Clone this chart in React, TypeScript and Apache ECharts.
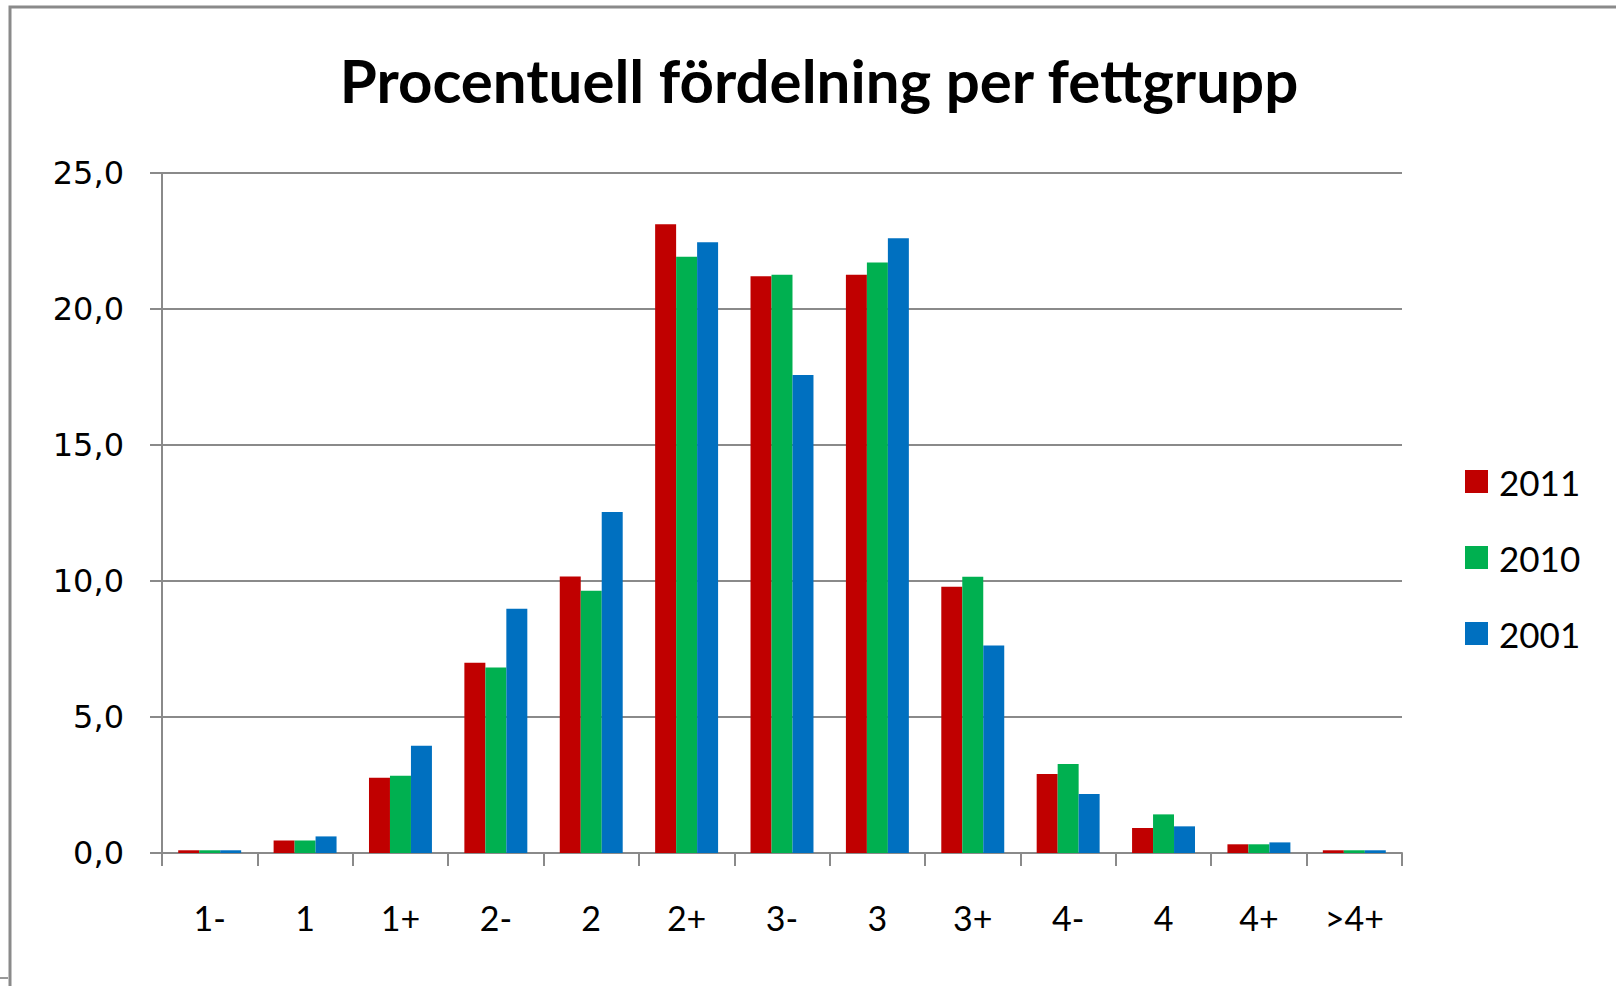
import React, { useEffect, useRef } from "react";
import * as echarts from "echarts";

const categories = ["1-", "1", "1+", "2-", "2", "2+", "3-", "3", "3+", "4-", "4", "4+", ">4+"];
const seriesNames = ["2011", "2010", "2001"];
const values2011 = [0.1, 0.46, 2.77, 6.99, 10.17, 23.12, 21.2, 21.26, 9.79, 2.9, 0.92, 0.32, 0.1];
const values2010 = [0.1, 0.46, 2.84, 6.82, 9.64, 21.92, 21.26, 21.71, 10.16, 3.27, 1.42, 0.32, 0.1];
const values2001 = [0.1, 0.61, 3.94, 8.98, 12.54, 22.45, 17.57, 22.6, 7.63, 2.17, 0.98, 0.39, 0.1];
const colors = ["#C00000", "#00B050", "#0070C0"];
const titleText = "Procentuell fördelning per fettgrupp";

export default function App() {
  const ref = useRef<HTMLDivElement>(null);
  useEffect(() => {
    if (!ref.current) return;
    const chart = echarts.init(ref.current, null, { renderer: "svg" });
    const gray = "#8a8a8a";
    const data = [values2011, values2010, values2001];
    chart.setOption({
      animation: false,
      backgroundColor: "#ffffff",
      title: {
        text: titleText,
        left: 814,
        top: 45,
        textAlign: "center",
        textStyle: {
          fontFamily: "Lato",
          fontWeight: "bold",
          fontSize: 60,
          lineHeight: 60,
          color: "#000000",
        },
      },
      legend: {
        orient: "vertical",
        left: 1460,
        top: 459,
        itemWidth: 23,
        itemHeight: 23,
        itemGap: 41,
        icon: "rect",
        data: seriesNames,
        textStyle: {
          fontFamily: "Lato",
          fontSize: 35,
          lineHeight: 35,
          color: "#000000",
          padding: [0, 0, 0, 6],
        },
      },
      grid: { left: 162, right: 214, top: 173, bottom: 133, containLabel: false },
      xAxis: {
        type: "category",
        data: categories,
        boundaryGap: true,
        axisLine: { show: true, lineStyle: { color: gray, width: 2 } },
        axisTick: { show: true, interval: 0, length: 13, lineStyle: { color: gray, width: 2 } },
        axisLabel: {
          interval: 0,
          margin: 47,
          fontFamily: "Lato",
          fontSize: 34,
          color: "#000000",
        },
        splitLine: { show: false },
      },
      yAxis: {
        type: "value",
        min: 0,
        max: 25,
        interval: 5,
        axisLine: { show: true, lineStyle: { color: gray, width: 2 } },
        axisTick: { show: true, length: 12, lineStyle: { color: gray, width: 2 } },
        axisLabel: {
          margin: 38,
          fontFamily: "DejaVu Sans",
          fontSize: 32,
          color: "#000000",
          formatter: (v: number) => v.toFixed(1).replace(".", ","),
        },
        splitLine: { show: true, lineStyle: { color: gray, width: 2 } },
      },
      series: seriesNames.map((name, i) => ({
        name,
        type: "bar",
        data: data[i],
        barGap: "0%",
        barCategoryGap: "34%",
        itemStyle: { color: colors[i] },
      })),
      graphic: [
        {
          type: "rect",
          shape: { x: 10, y: 7, width: 1800, height: 1200 },
          style: { fill: "none", stroke: "#8a8a8a", lineWidth: 3 },
          silent: true,
          z: 100,
        },
        {
          type: "line",
          shape: { x1: 0, y1: 978, x2: 8, y2: 978 },
          style: { stroke: "#333333", lineWidth: 1 },
          silent: true,
        },
      ],
    });
    return () => chart.dispose();
  }, []);
  return (
    <div
      ref={ref}
      style={{ position: "fixed", left: 0, top: 0, width: 1616, height: 986 }}
    />
  );
}
